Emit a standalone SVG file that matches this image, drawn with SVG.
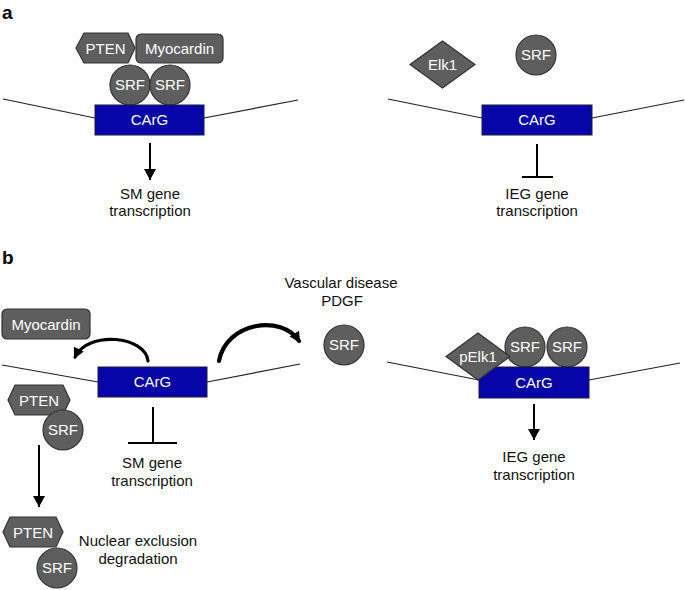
<svg xmlns="http://www.w3.org/2000/svg" width="685" height="590" viewBox="0 0 685 590">
<style>
text{font-family:"Liberation Sans",Arial,sans-serif;}
.lbl{font-size:15px;fill:#111;text-anchor:middle;}
.pl{font-size:15px;fill:#fff;text-anchor:middle;}
.panel{font-size:19px;font-weight:bold;fill:#000;}
.prot{fill:#5e5e5e;stroke:#333;stroke-width:1.2;}
.carg{fill:#0505a8;stroke:#1a1a40;stroke-width:1;}
.dna{stroke:#222;stroke-width:1.2;fill:none;}
.arr{stroke:#000;stroke-width:2;fill:none;}
.curv{stroke:#000;fill:none;stroke-linecap:round;}
</style>
<defs>
<marker id="ah" markerUnits="userSpaceOnUse" markerWidth="12" markerHeight="12" refX="10" refY="5.5" orient="auto" viewBox="0 0 10 11">
<path d="M0,0 L10,5.5 L0,11 z" fill="#000"/>
</marker>
<marker id="ahc" markerUnits="userSpaceOnUse" markerWidth="11" markerHeight="11" refX="8" refY="5" orient="auto" viewBox="0 0 10 10">
<path d="M0,0 L10,5 L0,10 z" fill="#000"/>
</marker>
</defs>
<rect width="685" height="590" fill="#fff"/>
<text class="panel" x="2" y="19">a</text>
<text class="panel" x="2" y="264">b</text>

<g id="connectors">
<!-- DNA lines -->
<line class="dna" x1="3" y1="99" x2="95" y2="118"/>
<line class="dna" x1="204" y1="118" x2="298" y2="100"/>
<line class="dna" x1="388" y1="99" x2="482" y2="118"/>
<line class="dna" x1="592" y1="118" x2="684" y2="100"/>
<line class="dna" x1="2" y1="365" x2="98" y2="382"/>
<line class="dna" x1="207" y1="382" x2="300" y2="364"/>
<line class="dna" x1="387" y1="362" x2="479" y2="380"/>
<line class="dna" x1="589" y1="380" x2="680" y2="363"/>
<!-- arrows -->
<line class="arr" x1="150" y1="143" x2="150" y2="180" marker-end="url(#ah)"/>
<line class="arr" x1="534" y1="404" x2="534" y2="440" marker-end="url(#ah)"/>
<line class="arr" x1="39" y1="445" x2="39" y2="507" marker-end="url(#ah)"/>
<!-- inhibitors -->
<path class="arr" d="M537,144 V177 M522,177 H553"/>
<path class="arr" d="M153,407 V443 M128,443 H177"/>
<!-- curved arrows -->
<path class="curv" stroke-width="3.2" d="M148,361 C146,336 88,330 75,357" marker-end="url(#ahc)"/>
<path class="curv" stroke-width="4.2" d="M219,361 C226,322 282,314 299,341" marker-end="url(#ahc)"/>
</g>

<!-- Panel a left -->
<g id="a-pten">
<polygon class="prot" points="76,48 84,33 128,33 135,48 128,63 84,63"/>
<text class="pl" x="105.5" y="53.5">PTEN</text>
</g>
<g id="a-myocardin">
<rect class="prot" x="136" y="34" width="87" height="29" rx="5"/>
<text class="pl" x="179.5" y="54">Myocardin</text>
</g>
<g id="a-srf1">
<circle class="prot" cx="130" cy="85" r="20"/>
<text class="pl" x="130" y="90">SRF</text>
</g>
<g id="a-srf2">
<circle class="prot" cx="170" cy="85" r="20"/>
<text class="pl" x="170" y="90">SRF</text>
</g>
<g id="a-carg1">
<rect class="carg" x="95" y="105" width="109" height="30"/>
<text class="pl" x="149.5" y="125">CArG</text>
</g>
<g id="a-sm">
<text class="lbl" x="150" y="199">SM gene</text>
<text class="lbl" x="150" y="216">transcription</text>
</g>

<!-- Panel a right -->
<g id="a-elk1">
<polygon class="prot" points="410,64.5 442.5,41 475,64.5 442.5,88"/>
<text class="pl" x="442.5" y="70">Elk1</text>
</g>
<g id="a-srf3">
<circle class="prot" cx="536" cy="55" r="20"/>
<text class="pl" x="536" y="60">SRF</text>
</g>
<g id="a-carg2">
<rect class="carg" x="482" y="105" width="110" height="30"/>
<text class="pl" x="537" y="125">CArG</text>
</g>
<g id="a-ieg">
<text class="lbl" x="537" y="199">IEG gene</text>
<text class="lbl" x="537" y="216">transcription</text>
</g>

<!-- Panel b left -->
<g id="b-myocardin">
<rect class="prot" x="2" y="309" width="88" height="30" rx="5"/>
<text class="pl" x="46" y="329.5">Myocardin</text>
</g>
<g id="b-carg1">
<rect class="carg" x="98" y="367" width="109" height="30"/>
<text class="pl" x="152.5" y="387">CArG</text>
</g>
<g id="b-vascular">
<text class="lbl" x="341" y="288">Vascular disease</text>
<text class="lbl" x="342" y="306">PDGF</text>
</g>
<g id="b-srf-free">
<circle class="prot" cx="344" cy="345" r="20"/>
<text class="pl" x="344" y="350">SRF</text>
</g>
<g id="b-pten1">
<polygon class="prot" points="8,400 15,385 63,385 70,400 63,415 15,415"/>
<text class="pl" x="39" y="405.5">PTEN</text>
</g>
<g id="b-srf1">
<circle class="prot" cx="63" cy="430" r="20"/>
<text class="pl" x="63" y="435">SRF</text>
</g>
<g id="b-sm">
<text class="lbl" x="152" y="468">SM gene</text>
<text class="lbl" x="152" y="486">transcription</text>
</g>
<g id="b-pten2">
<polygon class="prot" points="3,532 10,517 56,517 63,532 56,547 10,547"/>
<text class="pl" x="33" y="537.5">PTEN</text>
</g>
<g id="b-srf2">
<circle class="prot" cx="57" cy="568" r="20"/>
<text class="pl" x="57" y="573">SRF</text>
</g>
<g id="b-nuclear">
<text class="lbl" x="138" y="546">Nuclear exclusion</text>
<text class="lbl" x="138" y="564">degradation</text>
</g>

<!-- Panel b right -->
<g id="b-srf3">
<circle class="prot" cx="525" cy="347" r="20"/>
<text class="pl" x="525" y="352">SRF</text>
</g>
<g id="b-srf4">
<circle class="prot" cx="567" cy="347" r="20"/>
<text class="pl" x="567" y="352">SRF</text>
</g>
<g id="b-carg2">
<rect class="carg" x="479" y="367" width="110" height="31"/>
<text class="pl" x="534" y="387.5">CArG</text>
</g>
<g id="b-pelk1">
<polygon class="prot" points="446,356.5 478,333 510,356.5 478,380"/>
<text class="pl" x="478" y="362">pElk1</text>
</g>
<g id="b-ieg">
<text class="lbl" x="534" y="462">IEG gene</text>
<text class="lbl" x="534" y="480">transcription</text>
</g>
</svg>
